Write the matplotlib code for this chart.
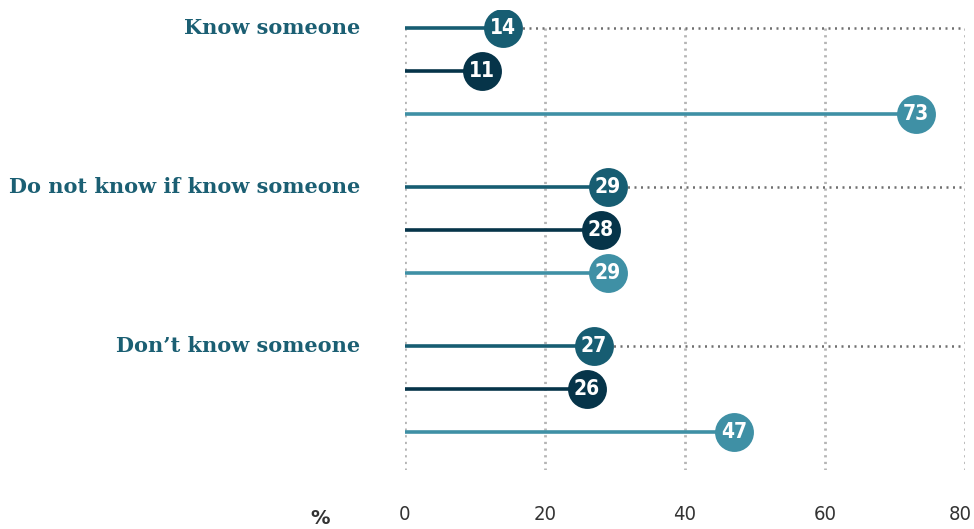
import matplotlib
matplotlib.use("Agg")
import matplotlib.pyplot as plt
from matplotlib.transforms import blended_transform_factory, ScaledTranslation

categories = ["Know someone", "Do not know if know someone", "Don’t know someone"]
series1 = [14, 29, 27]
series2 = [11, 28, 26]
series3 = [73, 29, 47]
xticks = [0, 20, 40, 60, 80]

colors = ["#175d72", "#063449", "#3f90a5"]
label_color = "#1b5f73"
grid_color = "#b5b5b5"

W, H = 974, 529
fig = plt.figure(figsize=(W / 100, H / 100), dpi=100)
ax = fig.add_axes([405 / W, 1 - 470 / H, 560 / W, 460 / H])
u = 43.0
ax.set_xlim(0, 80)
ax.set_ylim((470 - 28) / u, -(28 - 10) / u)

group_step = 3.7
row_step = 1.0
all_series = [series1, series2, series3]

for x in xticks:
    ax.plot([x, x], [0, (470 - 28) / u], color=grid_color, lw=2.0,
            linestyle=(0, (0.8, 1.6)), zorder=1)

for g, cat in enumerate(categories):
    for r, s in enumerate(all_series):
        y = g * group_step + r * row_step
        v = s[g]
        if r == 0:
            ax.plot([v, 80], [y, y], color="#6f6f6f", lw=1.8,
                    linestyle=(0, (0.8, 1.8)), zorder=1)
        ax.plot([0, v], [y, y], color=colors[r], lw=2.6, zorder=2,
                solid_capstyle="butt")
        ax.plot([v], [y], "o", ms=28, color=colors[r], mew=0, zorder=3)
        ax.text(v, y, str(v), color="white", fontsize=15, fontweight="bold",
                ha="center", va="center", zorder=4, family="DejaVu Sans",
                fontstretch="condensed")
    ax.text(-45 / 7.0, g * group_step, cat,
            ha="right", va="center", color=label_color, fontsize=15,
            fontweight="bold", family="DejaVu Serif")

for sp in ax.spines.values():
    sp.set_visible(False)
ax.set_yticks([])
ax.set_xticks(xticks)
ax.set_xticklabels([str(t) for t in xticks], fontsize=14.5,
                   family="DejaVu Sans", fontstretch="condensed",
                   fontweight="light", color="#333333")
ax.tick_params(axis="x", length=0, pad=25)
last = ax.get_xticklabels()[-1]
last.set_horizontalalignment("right")
last.set_transform(last.get_transform() + ScaledTranslation(7 / 100, 0, fig.dpi_scale_trans))
ax.text(-85 / 7.0, 1 - 518 / H, "%",
        transform=blended_transform_factory(ax.transData, fig.transFigure),
        ha="center", va="center", fontsize=14, fontweight="bold",
        color="#333333")

fig.savefig("out.png", dpi=100, facecolor="white")
